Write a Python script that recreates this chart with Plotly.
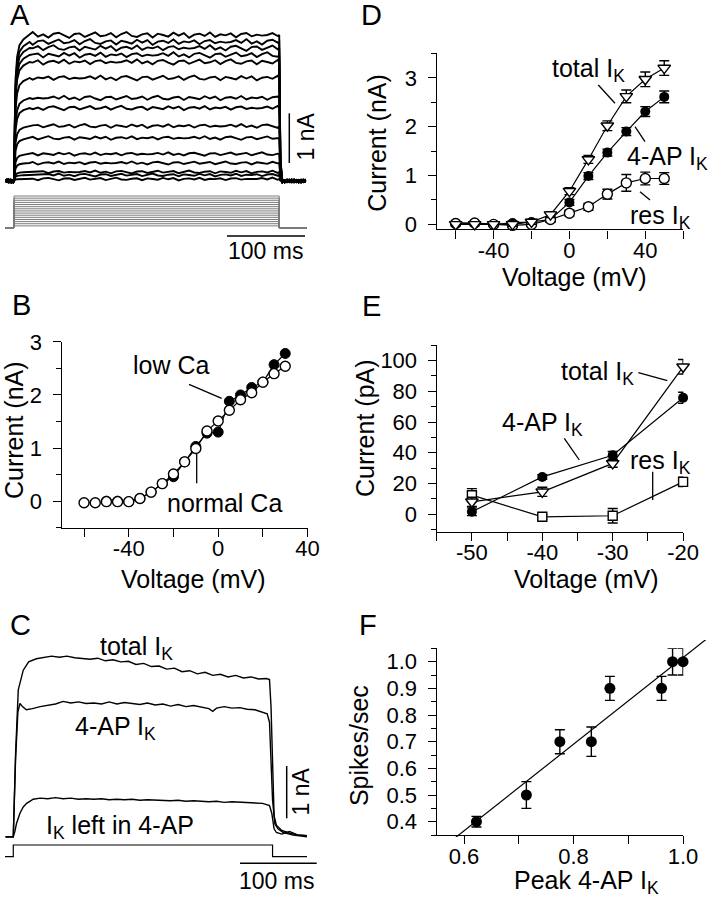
import numpy as np
import plotly.graph_objects as go

W, H = 709, 899
FONT = "Liberation Sans, Arial, Helvetica, sans-serif"

# ---------------- DATA ----------------
# Panel A: family of K+ currents (steady levels, nA) evoked by voltage steps
a_levels_nA = [2.92, 2.78, 2.66, 2.52, 2.38, 2.06, 1.66, 1.46, 1.10, 0.86, 0.54, 0.36, 0.18, 0.12, 0.04]
a_rise_ms = [0, 1, 2, 4, 7, 12, 20]
a_rise_frac = [0.0, 0.45, 0.70, 0.85, 0.93, 0.97, 1.0]
a_noise = [0.0, 0.6, -0.3, 0.9, -0.5, 0.2, -0.8, 0.4, 0.7, -0.2, -0.9, 0.3,
           0.5, -0.6, 0.1, 0.8, -0.4, -0.1, 0.6, -0.7, 0.3, 0.9, -0.3, -0.6,
           0.2, 0.5, -0.8, 0.4, 0.0, -0.5, 0.7, -0.2, 0.6, -0.9, 0.1, 0.4,
           -0.3, 0.8, -0.6, 0.2, -0.1, 0.5, -0.7, 0.3, 0.6, -0.4, 0.1, -0.2]
a_pulse_ms = 340
a_hold_mV = -70
a_steps_mV = [-60, -50, -40, -30, -20, -10, 0, 10, 20, 30, 40, 50, 60, 70, 80]

# Panel B: I-V in normal and low Ca
b_v_normal = [-60, -55, -50, -45, -40, -35, -30, -25, -20, -15, -10, -5, 0, 5, 10, 15, 20, 25, 30]
b_normal = [-0.03, -0.03, -0.01, -0.01, -0.01, 0.05, 0.17, 0.33, 0.51, 0.74, 0.99, 1.32, 1.51,
            1.71, 1.91, 2.04, 2.24, 2.40, 2.54]
b_v_low = [-50, -45, -40, -35, -30, -25, -20, -15, -10, -5, 0, 5, 10, 15, 20, 25, 30]
b_low = [0.0, 0.0, -0.01, 0.05, 0.17, 0.33, 0.46, 0.74, 1.03, 1.28, 1.30, 1.88, 2.00, 2.14,
         2.24, 2.57, 2.78]

# Panel C: current traces (time ms, current nA)
c_total = [(-10, 0.0), (0, 0.0), (3, 1.6), (6.5, 2.82), (13, 3.2), (20, 3.36), (30, 3.42), (40, 3.44),
           (50, 3.47), (60, 3.45), (70, 3.47), (80, 3.44), (90, 3.43), (100, 3.41), (110, 3.43),
           (120, 3.38), (130, 3.40), (140, 3.36), (150, 3.37), (160, 3.31), (170, 3.33), (180, 3.27),
           (190, 3.28), (200, 3.22), (210, 3.24), (220, 3.17), (230, 3.19), (240, 3.13), (250, 3.16),
           (260, 3.10), (270, 3.12), (280, 3.07), (290, 3.10), (300, 3.05), (310, 3.07), (320, 3.03),
           (330, 3.04), (334, 3.02), (336, 2.5), (338, 1.2), (340, 0.4), (343, 0.22), (350, 0.12),
           (360, 0.07), (370, 0.03), (383, 0.02)]
c_4ap = [(-10, 0.0), (0, 0.0), (3, 1.5), (6, 2.4), (8.7, 2.56), (12, 2.5), (17, 2.44), (25, 2.46),
         (35, 2.5), (45, 2.53), (55, 2.55), (65, 2.6), (75, 2.57), (85, 2.59), (95, 2.56), (105, 2.57),
         (115, 2.55), (125, 2.59), (135, 2.55), (145, 2.58), (155, 2.56), (165, 2.54), (175, 2.57),
         (185, 2.53), (195, 2.55), (205, 2.51), (215, 2.54), (225, 2.5), (235, 2.52), (245, 2.49),
         (255, 2.46), (260, 2.41), (265, 2.47), (275, 2.5), (285, 2.47), (295, 2.48), (305, 2.45),
         (315, 2.44), (325, 2.39), (331, 2.36), (334, 2.2), (336, 1.5), (338, 0.7), (341, 0.25),
         (345, 0.15), (352, 0.08), (365, 0.03), (383, 0.0)]
c_left = [(-10, 0.0), (0, 0.0), (2, 0.1), (4.3, 0.26), (8.7, 0.45), (13, 0.57), (17.4, 0.64), (26, 0.72),
          (35, 0.74), (45, 0.73), (55, 0.75), (65, 0.73), (75, 0.74), (85, 0.72), (95, 0.73), (105, 0.72),
          (115, 0.73), (125, 0.71), (135, 0.72), (145, 0.71), (155, 0.72), (165, 0.70), (175, 0.71),
          (185, 0.70), (195, 0.70), (205, 0.69), (215, 0.70), (225, 0.68), (235, 0.69), (245, 0.68),
          (255, 0.67), (265, 0.68), (275, 0.66), (285, 0.67), (295, 0.66), (305, 0.66), (315, 0.65),
          (325, 0.64), (334, 0.60), (337, 0.45), (340, 0.15), (343, 0.08), (350, 0.05), (360, 0.1),
          (370, 0.04), (383, 0.02)]
c_pulse_ms = 338
c_hold, c_step = 0, 1

# Panel D: I-V (nA)
d_v = [-60, -50, -40, -30, -20, -10, 0, 10, 20, 30, 40, 50]
d_total = [0.0, 0.0, 0.0, 0.0, 0.05, 0.2, 0.68, 1.33, 2.02, 2.62, 2.97, 3.2]
d_total_err = [0.03, 0.03, 0.03, 0.04, 0.05, 0.06, 0.07, 0.08, 0.1, 0.13, 0.15, 0.15]
d_4ap = [0.03, 0.02, 0.0, 0.03, 0.05, 0.1, 0.45, 0.99, 1.47, 1.9, 2.31, 2.61]
d_4ap_err = [0.03, 0.03, 0.03, 0.04, 0.04, 0.05, 0.06, 0.07, 0.07, 0.08, 0.1, 0.12]
d_res = [0.02, 0.03, 0.0, -0.02, 0.0, 0.1, 0.23, 0.36, 0.62, 0.85, 0.94, 0.94]
d_res_err = [0.03, 0.03, 0.03, 0.04, 0.04, 0.05, 0.06, 0.07, 0.1, 0.17, 0.13, 0.12]

# Panel E: I-V near threshold (pA)
e_v = [-50, -40, -30, -20]
e_total = [8, 14.5, 33, 96]
e_total_err = [3, 3, 2.5, 4.7]
e_4ap = [1.5, 24.2, 38.3, 75.8]
e_4ap_err = [2.5, 1.5, 2.5, 3.6]
e_res = [12.3, -1.8, -1.1, 21]
e_res_err = [4.3, 1.5, 4.7, 3]

# Panel F: spikes/sec vs peak 4-AP IK
f_x = [0.6226, 0.7138, 0.775, 0.8325, 0.8664, 0.9608, 0.9809, 1.0]
f_y = [0.40, 0.50, 0.70, 0.70, 0.90, 0.90, 1.00, 1.00]
f_err = [0.02, 0.05, 0.045, 0.055, 0.045, 0.045, 0.05, 0.05]

# ---------------- HELPERS ----------------
def dom_x(a, b):
    return [a / W, b / W]

def dom_y(top, bottom):
    return [1 - bottom / H, 1 - top / H]

def ann(text, x, y, size=25, angle=0):
    return dict(text=text, x=x / W, y=1 - y / H, xref='paper', yref='paper', showarrow=False,
                font=dict(size=size, family=FONT, color='black'), textangle=angle,
                xanchor='center', yanchor='middle')

def seg(x0, y0, x1, y1, w=1.3):
    return dict(type='line', xref='paper', yref='paper', x0=x0 / W, y0=1 - y0 / H,
                x1=x1 / W, y1=1 - y1 / H, line=dict(color='black', width=w))

def hidden(domain, rng, anchor):
    return dict(domain=domain, range=rng, visible=False, showgrid=False, zeroline=False,
                anchor=anchor, fixedrange=True, automargin=False)

def vis(domain, rng, anchor, **kw):
    d = dict(domain=domain, range=rng, anchor=anchor, showline=True, linecolor='black', linewidth=1.4,
             ticks='outside', ticklen=8, tickwidth=1.4, tickcolor='black', showgrid=False,
             zeroline=False, tickfont=dict(size=22, color='black', family=FONT), fixedrange=True,
             automargin=False)
    d.update(kw)
    return d

def minor(dtick, length=5):
    return dict(ticks='outside', dtick=dtick, ticklen=length, tickwidth=1.4, tickcolor='black',
                showgrid=False)

fig = go.Figure()
BLK = 'black'

# ---------------- PANEL A ----------------
N = len(a_noise)
pre_t = [-11, -9, -7, -5, -3, -1]
post_t = [344, 347, 350, 353, 356, 359, 362, 365, 368, 371, 374]
plateau_t = np.linspace(24, a_pulse_ms - 2, N)
for i, lev in enumerate(a_levels_nA):
    amp = 0.03 + 0.012 * lev
    k = 7 * i
    t, y = [], []
    for j, tt in enumerate(pre_t):
        t.append(tt); y.append(0.035 * a_noise[(k + j) % N])
    for tt, fr in zip(a_rise_ms, a_rise_frac):
        t.append(tt); y.append(lev * fr)
    for j, tt in enumerate(plateau_t):
        t.append(tt); y.append(lev + amp * a_noise[(k + j + 3) % N])
    t += [a_pulse_ms, a_pulse_ms + 1.5, a_pulse_ms + 3]
    y += [lev, 0.15 * lev, 0.03 * lev]
    for j, tt in enumerate(post_t):
        t.append(tt); y.append(0.035 * a_noise[(k + j + 11) % N])
    fig.add_trace(go.Scatter(x=t, y=y, mode='lines', line=dict(color=BLK, width=1.9),
                             xaxis='x', yaxis='y', hoverinfo='skip'))

for lev in a_steps_mV:
    fig.add_trace(go.Scatter(x=[-11.5, 0, 0, a_pulse_ms, a_pulse_ms, 375.6],
                             y=[a_hold_mV, a_hold_mV, lev, lev, a_hold_mV, a_hold_mV],
                             mode='lines', line=dict(color='#7a7a7a', width=1),
                             xaxis='x2', yaxis='y2', hoverinfo='skip'))

# ---------------- PANEL B ----------------
fig.add_trace(go.Scatter(x=b_v_low, y=b_low, mode='lines', line=dict(color=BLK, width=1.2),
                         xaxis='x3', yaxis='y3'))
fig.add_trace(go.Scatter(x=b_v_normal, y=b_normal, mode='lines', line=dict(color=BLK, width=1.2),
                         xaxis='x3', yaxis='y3'))
fig.add_trace(go.Scatter(x=b_v_low, y=b_low, mode='markers', cliponaxis=False,
                         marker=dict(symbol='circle', size=10, color=BLK, line=dict(color=BLK, width=1)),
                         xaxis='x3', yaxis='y3'))
fig.add_trace(go.Scatter(x=b_v_normal, y=b_normal, mode='markers', cliponaxis=False,
                         marker=dict(symbol='circle', size=10, color='white', line=dict(color=BLK, width=1.4)),
                         xaxis='x3', yaxis='y3'))

# ---------------- PANEL C ----------------
for series in (c_total, c_4ap, c_left):
    fig.add_trace(go.Scatter(x=[p[0] for p in series], y=[p[1] for p in series], mode='lines',
                             line=dict(color=BLK, width=1.4), xaxis='x4', yaxis='y4'))
fig.add_trace(go.Scatter(x=[-10.8, 0, 0, c_pulse_ms, c_pulse_ms, 383],
                         y=[c_hold, c_hold, c_step, c_step, c_hold, c_hold], mode='lines',
                         line=dict(color=BLK, width=1.2), xaxis='x5', yaxis='y5'))

# ---------------- PANEL D ----------------
for ys in (d_4ap, d_res, d_total):
    fig.add_trace(go.Scatter(x=d_v, y=ys, mode='lines', line=dict(color=BLK, width=1.2),
                             xaxis='x6', yaxis='y6'))
err = lambda a: dict(type='data', array=a, color=BLK, thickness=1.4, width=5)
fig.add_trace(go.Scatter(x=d_v, y=d_4ap, error_y=err(d_4ap_err), mode='markers', cliponaxis=False,
                         marker=dict(symbol='circle', size=10, color=BLK), xaxis='x6', yaxis='y6'))
fig.add_trace(go.Scatter(x=d_v, y=d_res, error_y=err(d_res_err), mode='markers', cliponaxis=False,
                         marker=dict(symbol='circle', size=10, color='white', line=dict(color=BLK, width=1.4)),
                         xaxis='x6', yaxis='y6'))
fig.add_trace(go.Scatter(x=d_v, y=d_total, error_y=err(d_total_err), mode='markers', cliponaxis=False,
                         marker=dict(symbol='triangle-down', size=11, color='white', line=dict(color=BLK, width=1.4)),
                         xaxis='x6', yaxis='y6'))

# ---------------- PANEL E ----------------
for ys in (e_res, e_4ap, e_total):
    fig.add_trace(go.Scatter(x=e_v, y=ys, mode='lines', line=dict(color=BLK, width=1.2),
                             xaxis='x7', yaxis='y7'))
fig.add_trace(go.Scatter(x=e_v, y=e_res, error_y=err(e_res_err), mode='markers', cliponaxis=False,
                         marker=dict(symbol='square', size=9, color='white', line=dict(color=BLK, width=1.4)),
                         xaxis='x7', yaxis='y7'))
fig.add_trace(go.Scatter(x=e_v, y=e_4ap, error_y=err(e_4ap_err), mode='markers', cliponaxis=False,
                         marker=dict(symbol='circle', size=10, color=BLK), xaxis='x7', yaxis='y7'))
fig.add_trace(go.Scatter(x=e_v, y=e_total, error_y=err(e_total_err), mode='markers', cliponaxis=False,
                         marker=dict(symbol='triangle-down', size=11, color='white', line=dict(color=BLK, width=1.4)),
                         xaxis='x7', yaxis='y7'))

# ---------------- PANEL F ----------------
coef = np.polyfit(f_x, f_y, 1)
fit_x = np.array([0.55, 1.047])
fig.add_trace(go.Scatter(x=fit_x, y=np.polyval(coef, fit_x), mode='lines',
                         line=dict(color=BLK, width=1.2), xaxis='x9', yaxis='y9'))
fig.add_trace(go.Scatter(x=f_x, y=f_y, error_y=err(f_err), mode='markers', cliponaxis=False,
                         marker=dict(symbol='circle', size=11, color=BLK), xaxis='x8', yaxis='y8'))

# ---------------- LAYOUT ----------------
XSO = -7   # x tick label standoff
YSO = 6    # y tick label standoff
layout = dict(
    template='none',
    width=W, height=H, margin=dict(l=0, r=0, t=0, b=0, pad=0, autoexpand=False),
    paper_bgcolor='white', plot_bgcolor='rgba(0,0,0,0)',
    showlegend=False, font=dict(family=FONT, color='black'),
    xaxis=hidden(dom_x(5, 307), [-11.54, 375.6], 'y'),
    yaxis=hidden(dom_y(25, 190), [-0.18, 3.12], 'x'),
    xaxis2=hidden(dom_x(5, 307), [-11.54, 375.6], 'y2'),
    yaxis2=hidden(dom_y(190, 232), [-88.75, 108.1], 'x2'),
    xaxis4=hidden(dom_x(5, 307), [-10.8, 382.9], 'y4'),
    yaxis4=hidden(dom_y(640, 845), [-0.16, 3.78], 'x4'),
    xaxis5=hidden(dom_x(5, 307), [-10.8, 382.9], 'y5'),
    yaxis5=hidden(dom_y(840, 862), [-0.453, 1.427], 'x5'),
    xaxis9=hidden(dom_x(436.7, 709), [0.55, 1.0469], 'y9'),
    yaxis9=hidden(dom_y(640, 837), [0.3425, 1.0812], 'x9'),
    # B
    xaxis3=vis(dom_x(61.7, 307.7), [-70, 40.05], 'y3', tickvals=[-40, 0, 40], ticktext=['-40', '0', '40'],
               minor=minor(20, 8), ticklabelstandoff=XSO),
    yaxis3=vis(dom_y(341.7, 527.7), [-0.5, 3.002], 'x3', tickvals=[0, 1, 2, 3], minor=minor(0.5, 5),
               ticklabelstandoff=YSO),
    # D
    xaxis6=vis(dom_x(436.7, 683.3), [-70, 60.05], 'y6', tickvals=[-40, 0, 40], ticktext=['-40', '0', '40'],
               minor=minor(20, 8), ticklabelstandoff=XSO),
    yaxis6=vis(dom_y(53.3, 229.3), [-0.1, 3.502], 'x6', tickvals=[0, 1, 2, 3], minor=minor(0.5, 5),
               ticklabelstandoff=YSO),
    # E
    xaxis7=vis(dom_x(436.7, 683.3), [-55, -19.97], 'y7', tickvals=[-50, -40, -30, -20],
               ticktext=['-50', '-40', '-30', '-20'], minor=minor(5, 8), ticklabelstandoff=XSO),
    yaxis7=vis(dom_y(345, 531.7), [-11.5, 110.2], 'x7', tickvals=[0, 20, 40, 60, 80, 100],
               minor=minor(10, 5), ticklabelstandoff=YSO),
    # F
    xaxis8=vis(dom_x(436.7, 683.3), [0.55, 1.0005], 'y8', tickvals=[0.6, 0.8, 1.0],
               ticktext=['0.6', '0.8', '1.0'], minor=minor(0.1, 8), ticklabelstandoff=XSO),
    yaxis8=vis(dom_y(648.3, 835), [0.35, 1.0502], 'x8', tickvals=[0.4, 0.5, 0.6, 0.7, 0.8, 0.9, 1.0],
               ticktext=['0.4', '0.5', '0.6', '0.7', '0.8', '0.9', '1.0'], minor=minor(0.05, 5),
               ticklabelstandoff=YSO),
)

annotations = [
    # panel letters
    ann('A', 20, 15, 29), ann('D', 371, 15, 29), ann('B', 21, 305, 29),
    ann('E', 371, 306, 29), ann('C', 20, 625, 29), ann('F', 368, 625, 29),
    # A
    ann('1 nA', 305.8, 136.7, 23, -90), ann('100 ms', 265.8, 250.8, 23),
    # B
    ann('Current (nA)', 14, 430, 25, -90), ann('Voltage (mV)', 193, 579, 25),
    ann('low Ca', 171.7, 365, 25), ann('normal Ca', 224.2, 503.3, 25),
    # C
    ann('total I<sub>K</sub>', 136, 648, 25), ann('4-AP I<sub>K</sub>', 115.8, 727.5, 25),
    ann('I<sub>K</sub> left in 4-AP', 120, 826.7, 25),
    ann('1 nA', 300.8, 791.7, 23, -90), ann('100 ms', 276.7, 880.8, 23),
    # D
    ann('Current (nA)', 376.7, 143, 25, -90), ann('Voltage (mV)', 574, 277, 25),
    ann('total I<sub>K</sub>', 588.3, 70, 25), ann('4-AP I<sub>K</sub>', 667.5, 158.3, 25),
    ann('res I<sub>K</sub>', 660.8, 216.7, 25),
    # E
    ann('Current (pA)', 365, 428, 25, -90), ann('Voltage (mV)', 586.7, 579, 25),
    ann('total I<sub>K</sub>', 597.5, 373.3, 25), ann('4-AP I<sub>K</sub>', 542.5, 424, 25),
    ann('res I<sub>K</sub>', 660, 461.7, 25),
    # F
    ann('Spikes/sec', 358.3, 745.8, 25, -90), ann('Peak 4-AP I<sub>K</sub>', 586.7, 882, 25),
]

shapes = [
    # A scale bars
    seg(289.3, 113.3, 289.3, 163, 1.5), seg(227, 236, 305, 236, 1.5),
    # C scale bars
    seg(286.7, 766, 286.7, 818.3, 1.5), seg(240, 863.3, 316.7, 863.3, 1.5),
    # B pointers
    seg(189, 384.3, 221.7, 398.3), seg(196.7, 453.3, 196.7, 483.3),
    # D pointers
    seg(598.3, 85, 615, 103.3), seg(635, 126.7, 645, 141.7), seg(640, 191.7, 650, 200),
    # E pointers
    seg(638.3, 372.7, 667.3, 380.7), seg(564.3, 438.3, 579.3, 460), seg(652.7, 471.7, 652.7, 500),
]

layout['annotations'] = annotations
layout['shapes'] = shapes
fig.update_layout(**layout)
fig.write_html("out.html", config={'displayModeBar': False},
               post_script="document.body.style.margin='0px';document.body.style.padding='0px';")
